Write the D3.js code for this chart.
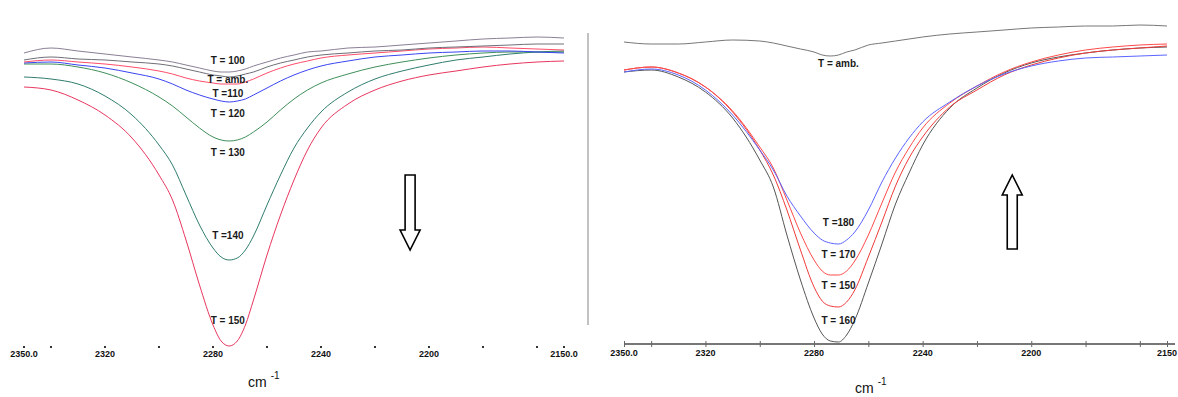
<!DOCTYPE html>
<html>
<head>
<meta charset="utf-8">
<script src="https://cdn.jsdelivr.net/npm/d3@7"></script>
<style>
  html, body { margin: 0; padding: 0; background: #fff; }
  svg { display: block; font-family: "Liberation Sans", Arial, sans-serif; }
</style>
</head>
<body>
<div id="chart"></div>
<script>
// wavenumber grid (cm-1) shared by every spectrum
const wavenumbers = [2350, 2340, 2330, 2320, 2310, 2300, 2295, 2290, 2285, 2280, 2277, 2274, 2271, 2268, 2265,
  2260, 2255, 2250, 2245, 2240, 2230, 2220, 2210, 2200, 2190, 2180, 2170, 2160, 2150];

// left panel: heating (band grows)
const leftT100 = [29.7,30.2,29.9,29.6,29.3,29.0,28.8,28.5,28.2,27.9,27.8,27.8,27.9,28.1,28.4,28.8,29.2,29.5,29.8,29.9,30.2,30.3,30.5,30.7,30.9,31.1,31.2,31.3,31.2];
const leftAmb  = [29.0,29.3,29.1,29.0,28.8,28.6,28.4,28.1,27.8,27.5,27.4,27.3,27.4,27.6,27.8,28.3,28.7,29.0,29.3,29.5,29.7,29.9,30.0,30.2,30.3,30.4,30.5,30.6,30.6];
const leftT110 = [28.8,29.0,28.8,28.6,28.3,27.9,27.6,27.2,26.9,26.7,26.6,26.6,26.6,26.8,27.1,27.7,28.2,28.6,28.9,29.2,29.5,29.7,29.9,30.1,30.2,30.3,30.2,30.1,30.0];
const leftT120 = [28.7,28.8,28.5,28.2,27.7,27.1,26.6,26.0,25.5,25.1,24.9,24.8,24.9,25.1,25.5,26.2,26.9,27.5,28.0,28.4,28.9,29.3,29.5,29.7,29.8,29.9,29.9,29.8,29.7];
const leftT130 = [28.6,28.6,28.3,27.7,26.7,25.3,24.4,23.3,22.2,21.3,21.0,20.9,21.0,21.3,21.8,22.8,24.0,25.1,26.0,26.7,27.6,28.3,28.8,29.2,29.5,29.7,29.8,29.8,29.8];
const leftT140 = [27.3,27.1,26.6,25.4,23.5,20.5,18.5,15.5,12.5,10.2,9.3,9.0,9.2,10.0,11.4,14.5,17.5,20.2,22.2,23.8,25.8,27.1,27.9,28.5,29.0,29.3,29.6,29.8,29.9];
const leftT150 = [26.3,26.0,25.0,23.5,21.2,17.5,15.0,11.0,6.5,2.5,0.9,0.4,0.9,2.5,5.0,9.5,13.5,17.0,20.0,22.2,24.6,26.0,26.9,27.5,27.9,28.3,28.6,28.8,28.9];

// right panel: cooling (band shrinks)
const rightAmb  = [30.8,30.6,30.6,30.8,31.0,30.9,30.7,30.4,30.1,29.8,29.5,29.4,29.5,29.8,30.0,30.5,30.7,30.9,31.1,31.3,31.6,31.8,32.0,32.2,32.3,32.4,32.4,32.5,32.4];
const rightT160 = [27.8,28.0,27.3,25.8,23.2,19.0,16.3,11.5,7.0,3.2,1.6,0.9,0.8,1.5,3.0,6.7,10.6,14.6,17.7,20.5,24.2,26.2,27.7,28.7,29.3,29.7,30.0,30.2,30.3];
const rightT150 = [28.0,28.3,27.7,26.3,23.8,20.0,17.5,14.0,10.0,6.3,4.9,4.4,4.3,4.8,6.0,9.3,12.8,16.4,19.2,21.3,24.3,26.0,27.5,28.5,29.2,29.7,30.0,30.2,30.4];
const rightT170 = [28.0,28.3,27.7,26.3,23.9,20.3,18.2,15.0,11.7,9.0,7.9,7.5,7.5,7.9,8.9,11.5,14.7,17.8,20.2,22.2,24.7,26.4,27.8,28.8,29.5,30.0,30.3,30.5,30.6];
const rightT180 = [27.8,28.1,27.5,26.0,23.5,20.0,18.0,15.4,13.4,11.7,11.0,10.7,10.6,11.0,11.8,14.0,16.8,19.2,21.2,22.8,24.8,26.4,27.6,28.4,28.9,29.2,29.3,29.4,29.5];

const leftTickLabels = ['2350.0', '2320', '2280', '2240', '2200', '2150.0'];
const rightTickLabels = ['2350.0', '2320', '2280', '2240', '2200', '2150'];
const tickValues = [2350, 2320, 2280, 2240, 2200, 2150];
const minorTicks = [2340, 2320, 2300, 2280, 2260, 2240, 2220, 2200, 2180, 2160];

// curve labels: text, value anchor
const leftLabelText = ['T = 100', 'T = amb.', 'T =110', 'T = 120', 'T = 130', 'T =140', 'T = 150'];
const leftLabelVal  = [29.0, 27.1, 25.7, 23.7, 19.8, 11.5, 3.0];
const rightLabelText = ['T = amb.', 'T =180', 'T = 170', 'T = 150', 'T = 160'];
const rightLabelVal  = [28.7, 12.8, 9.6, 6.5, 3.0];

const W = 1178, H = 397;
const svg = d3.select('#chart').append('svg').attr('width', W).attr('height', H);

const y = d3.scaleLinear().domain([0, 32]).range([350, 30]);
const xL = d3.scaleLinear().domain([2350, 2150]).range([24, 564]);
const xR = d3.scaleLinear().domain([2350, 2150]).range([624, 1167]);

function drawSeries(x, values, color) {
  const line = d3.line().x((d, i) => x(wavenumbers[i])).y(d => y(d)).curve(d3.curveMonotoneX);
  svg.append('path').datum(values).attr('d', line)
    .attr('fill', 'none').attr('stroke', color).attr('stroke-width', 1);
}

// left panel
drawSeries(xL, leftT150, '#e8365e');
drawSeries(xL, leftT140, '#2f7d6e');
drawSeries(xL, leftT130, '#3f8f5a');
drawSeries(xL, leftT120, '#3a45f0');
drawSeries(xL, leftT110, '#ff4d6a');
drawSeries(xL, leftAmb, '#6e6e78');
drawSeries(xL, leftT100, '#8a8096');

// right panel
drawSeries(xR, rightT160, '#555555');
drawSeries(xR, rightT150, '#f03a3a');
drawSeries(xR, rightT170, '#ff4a4a');
drawSeries(xR, rightT180, '#5a64ff');
drawSeries(xR, rightAmb, '#777777');

// curve labels
const labelStyle = sel => sel.attr('text-anchor', 'middle').attr('font-size', 10).attr('font-weight', 'bold').attr('fill', '#1a1a1a');
svg.append('g').selectAll('text').data(leftLabelText).join('text')
  .attr('x', xL(2274.5)).attr('y', (d, i) => y(leftLabelVal[i]) + 4).text(d => d).call(labelStyle);
svg.append('g').selectAll('text').data(rightLabelText).join('text')
  .attr('x', xR(2271)).attr('y', (d, i) => y(rightLabelVal[i]) + 4).text(d => d).call(labelStyle);

// left axis: only dots and labels
svg.append('g').selectAll('rect').data(minorTicks.concat([2350, 2150])).join('rect')
  .attr('x', d => xL(d) - 1).attr('y', 346).attr('width', 2).attr('height', 2).attr('fill', '#333');
svg.append('g').selectAll('text').data(tickValues).join('text')
  .attr('x', d => xL(d)).attr('y', 357).attr('text-anchor', 'middle')
  .attr('font-size', 9).attr('font-weight', 'bold').attr('fill', '#111')
  .text((d, i) => leftTickLabels[i]);

// right axis: grey baseline with ticks
const axR = svg.append('g').attr('transform', 'translate(0,344)')
  .call(d3.axisBottom(xR).tickValues(minorTicks.concat([2350, 2150])).tickSize(3).tickFormat(''));
axR.select('.domain').attr('stroke', '#777').attr('stroke-width', 2).attr('d', `M${xR(2350)},0H1175`);
axR.selectAll('.tick line').attr('stroke', '#666').attr('y1', -3).attr('y2', 3);
svg.append('g').selectAll('text').data(tickValues).join('text')
  .attr('x', d => xR(d)).attr('y', 356).attr('text-anchor', 'middle')
  .attr('font-size', 9).attr('font-weight', 'bold').attr('fill', '#111')
  .text((d, i) => rightTickLabels[i]);

// axis titles
function unit(xc, yc) {
  const t = svg.append('text').attr('x', xc).attr('y', yc).attr('font-size', 14).attr('fill', '#111');
  t.append('tspan').text('cm');
  t.append('tspan').attr('dx', 4).attr('dy', -8).attr('font-size', 10).text('-1');
}
unit(248, 387);
unit(855, 393);

// divider between the panels
svg.append('line').attr('x1', 588).attr('x2', 588).attr('y1', 33).attr('y2', 325)
  .attr('stroke', '#999').attr('stroke-width', 1.2);

// direction arrows
function arrow(cx, yTop, yBot, down) {
  const sw = 5, hw = 10, hl = 20;
  let p;
  if (down) {
    p = `M${cx - sw},${yTop}H${cx + sw}V${yBot - hl}H${cx + hw}L${cx},${yBot}L${cx - hw},${yBot - hl}H${cx - sw}Z`;
  } else {
    p = `M${cx - sw},${yBot}H${cx + sw}V${yTop + hl}H${cx + hw}L${cx},${yTop}L${cx - hw},${yTop + hl}H${cx - sw}Z`;
  }
  svg.append('path').attr('d', p).attr('fill', '#fff').attr('stroke', '#000').attr('stroke-width', 1.6);
}
arrow(xL(2207), y(17.5), y(10.0), true);
arrow(xR(2207), y(17.5), y(10.1), false);
</script>
</body>
</html>
